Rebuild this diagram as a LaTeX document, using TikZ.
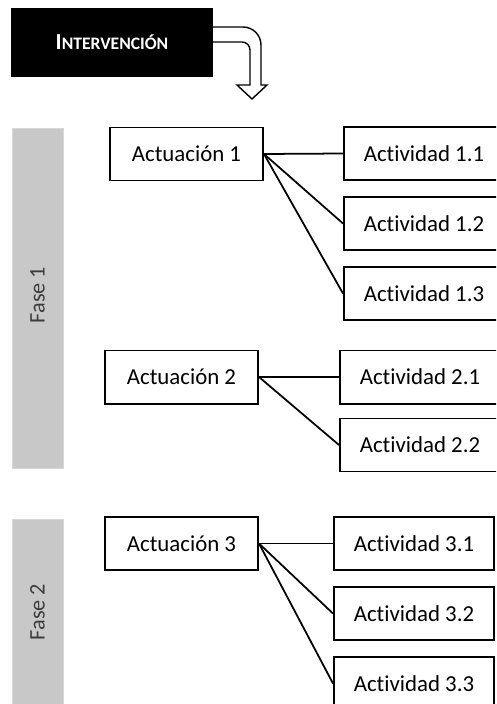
\documentclass[tikz,border=0pt]{standalone}
\usepackage{fontspec}
\setmainfont{Carlito}[Ligatures=NoCommon]
\usetikzlibrary{positioning}
\definecolor{FaseGray}{RGB}{200,200,200}
\definecolor{FaseEdge}{RGB}{215,215,215}
\definecolor{FaseText}{RGB}{60,60,60}

\begin{document}
\begin{tikzpicture}[
x=0.03cm,y=-0.03cm,
node distance=4.5mm,
actbox/.style={
rectangle,
draw=black,
line width=1.7pt,
fill=white,
minimum width=4.59cm,
minimum height=1.59cm,
align=center,
font=\fontsize{19.5}{22}\selectfont
},
tarea/.style={
actbox,
minimum width=4.8cm
},
fasebar/.style={
rectangle,
fill=FaseGray,
draw=FaseEdge,
minimum width=1.53cm
},
fasetext/.style={
rotate=90,
font=\fontsize{19}{22}\selectfont,
text=FaseText
},
link/.style={
line width=1.5pt,
draw=black
}
]
\clip (0,0) rectangle (496,704);

% flecha de bloque
\draw[line width=1.2pt,fill=white]
  (205,27) [rounded corners=0.54cm] -- (261,27) [sharp corners] -- (261,85)
  -- (267,85) -- (252,99) -- (237,85) -- (250,85)
  [rounded corners=0.24cm] -- (250,42) [sharp corners] -- (205,42) -- cycle;

\node[fill=black,minimum width=6.06cm,minimum height=2.07cm,text=white,
  font=\bfseries] (interv) at (112,42.5)
  {\fontsize{19.5}{22}\selectfont I\fontsize{15}{17}\selectfont NTERVENCIÓN};

% fases
\node[fasebar,minimum height=10.2cm] (fase1) at (37.5,298) {};
\node[fasetext] (f1txt) at (37.5,295) {Fase 1};
\node[fasebar,minimum height=6.3cm,anchor=north] (fase2) at (37.5,519) {};
\node[fasetext] (f2txt) at (37.5,612) {Fase 2};

% actuaciones
\node[actbox] (act1) at (186.5,154) {Actuación 1};
\node[actbox] (act2) at (181.5,377) {Actuación 2};
\node[actbox] (act3) at (181.5,543.5) {Actuación 3};

% actividades
\node[tarea] (a11) at (424,153.5) {Actividad 1.1};
\node[tarea,below=of a11] (a12) {Actividad 1.2};
\node[tarea,below=of a12] (a13) {Actividad 1.3};
\node[tarea] (a21) at (420,377) {Actividad 2.1};
\node[tarea,below=3.9mm of a21] (a22) {Actividad 2.2};
\node[tarea] (a31) at (414,543.5) {Actividad 3.1};
\node[tarea,below=of a31] (a32) {Actividad 3.2};
\node[tarea,below=of a32] (a33) {Actividad 3.3};

\draw[link] (act1.east) -- (a11.west);
\draw[link] (act1.east) -- (a12.west);
\draw[link] (act1.east) -- (a13.west);
\draw[link] (act2.east) -- (a21.west);
\draw[link] (act2.east) -- (a22.west);
\draw[link] (act3.east) -- (a31.west);
\draw[link] (act3.east) -- (a32.west);
\draw[link] (act3.east) -- (a33.west);

\end{tikzpicture}
\end{document}
